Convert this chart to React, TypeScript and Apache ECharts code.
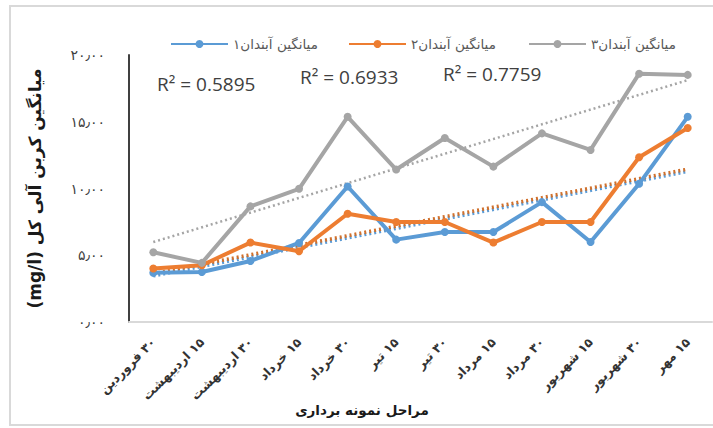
import React, { useEffect, useRef } from "react";
import * as echarts from "echarts";

const categories = [
  "۳۰ فروردین",
  "۱۵ اردیبهشت",
  "۳۰ اردیبهشت",
  "۱۵ خرداد",
  "۳۰ خرداد",
  "۱۵ تیر",
  "۳۰ تیر",
  "۱۵ مرداد",
  "۳۰ مرداد",
  "۱۵ شهریور",
  "۳۰ شهریور",
  "۱۵ مهر",
];

const seriesNames = ["میانگین آبندان۱", "میانگین آبندان۲", "میانگین آبندان۳"];

const pond1 = [3.68, 3.75, 4.57, 5.92, 10.15, 6.17, 6.74, 6.74, 8.98, 5.99, 10.35, 15.37];
const pond2 = [4.01, 4.25, 5.95, 5.3, 8.11, 7.49, 7.49, 5.95, 7.49, 7.49, 12.34, 14.53];
const pond3 = [5.22, 4.43, 8.66, 9.98, 15.37, 11.42, 13.78, 11.64, 14.13, 12.89, 18.6, 18.51];

const yTickLabels = ["۰٫۰۰", "۵٫۰۰", "۱۰٫۰۰", "۱۵٫۰۰", "۲۰٫۰۰"];
const r2Labels = ["R² = 0.5895", "R² = 0.6933", "R² = 0.7759"];

const xTitle = "مراحل نمونه برداری";
const yTitle = "میانگین کربن آلی کل (mg/l)";

const colors = ["#5b9bd5", "#ed7d31", "#a5a5a5"];
const trendColors = ["#5b9bd5", "#d0702c", "#a5a5a5"];

const rtl = (s: string) => "\u202B" + s + "\u202C";

function trend(values: number[]): [number, number][] {
  const n = values.length;
  const mx = (n - 1) / 2;
  const my = values.reduce((a, b) => a + b, 0) / n;
  let sxy = 0;
  let sxx = 0;
  values.forEach((v, i) => {
    sxy += (i - mx) * (v - my);
    sxx += (i - mx) * (i - mx);
  });
  const b = sxy / sxx;
  const a = my - b * mx;
  return [
    [0, a],
    [n - 1, a + b * (n - 1)],
  ];
}

export default function App() {
  const ref = useRef<HTMLDivElement>(null);
  useEffect(() => {
    if (!ref.current) return;
    const chart = echarts.init(ref.current, undefined, { renderer: "svg" });
    const data = [pond1, pond2, pond3];
    const font = "DejaVu Sans";
    const lineSeries = data.map((d, i) => ({
      name: seriesNames[i],
      type: "line",
      data: d,
      symbol: "circle",
      symbolSize: 8,
      z: 3,
      lineStyle: { width: 4, color: colors[i] },
      itemStyle: { color: colors[i] },
    }));
    const trendOrder = [2, 0, 1];
    const trendSeries = trendOrder.map((i) => ({
      name: "trend" + i,
      type: "line",
      data: trend(data[i]),
      showSymbol: false,
      symbol: "none",
      silent: true,
      z: 2,
      lineStyle: {
        width: i === 2 ? 2.5 : 3.5,
        color: trendColors[i],
        type: [2, 3],
      },
    }));
    const legendLefts = [165, 343, 523];
    chart.setOption({
      animation: false,
      backgroundColor: "#ffffff",
      grid: { left: 129, right: 1, top: 55, bottom: 106, containLabel: false },
      legend: seriesNames.map((name, i) => ({
        data: [name],
        left: legendLefts[i],
        top: 32,
        itemWidth: 57,
        itemHeight: 10,
        textStyle: { fontFamily: font, fontSize: 13.5, color: "#595959" },
      })),
      xAxis: {
        type: "category",
        data: categories,
        boundaryGap: true,
        axisLine: { show: true, lineStyle: { color: "#d9d9d9", width: 2 } },
        axisTick: { show: false },
        axisLabel: {
          rotate: 45,
          interval: 0,
          margin: 18,
          fontFamily: font,
          fontSize: 12.5,
          fontWeight: "bold",
          color: "#333333",
          formatter: (v: string) => rtl(v),
        },
      },
      yAxis: {
        type: "value",
        min: 0,
        max: 20,
        interval: 5,
        axisLine: { show: true, lineStyle: { color: "#404040", width: 2 } },
        axisTick: { show: false },
        splitLine: { show: false },
        axisLabel: {
          margin: 24,
          fontFamily: font,
          fontSize: 14,
          color: "#404040",
          formatter: (v: number) => yTickLabels[Math.round(v / 5)],
        },
        name: rtl(yTitle),
        nameLocation: "middle",
        nameRotate: 90,
        nameGap: 86,
        nameTextStyle: { fontFamily: font, fontSize: 17, fontWeight: "bold", color: "#1a1a1a" },
      },
      graphic: [
        {
          type: "rect",
          silent: true,
          z: -10,
          shape: { x: 10, y: 6, width: 720, height: 419 },
          style: { fill: "none", stroke: "#d9d9d9", lineWidth: 2 },
        },
        {
          type: "text",
          x: 362,
          y: 410,
          style: {
            text: xTitle,
            fontFamily: font,
            fontSize: 13.5,
            fontWeight: "bold",
            fill: "#1a1a1a",
            textAlign: "center",
            textVerticalAlign: "middle",
          },
        },
        ...r2Labels.map((t, i) => ({
          type: "text",
          left: [157, 300, 443][i],
          top: [74, 67, 64][i],
          style: { text: t, fontFamily: "Open Sans", fontSize: 19, fill: "#404040" },
        })),
      ],
      series: [...trendSeries, ...lineSeries],
    });
    return () => chart.dispose();
  }, []);
  return <div ref={ref} style={{ width: 713, height: 428, position: "absolute", left: 0, top: 0 }} />;
}
